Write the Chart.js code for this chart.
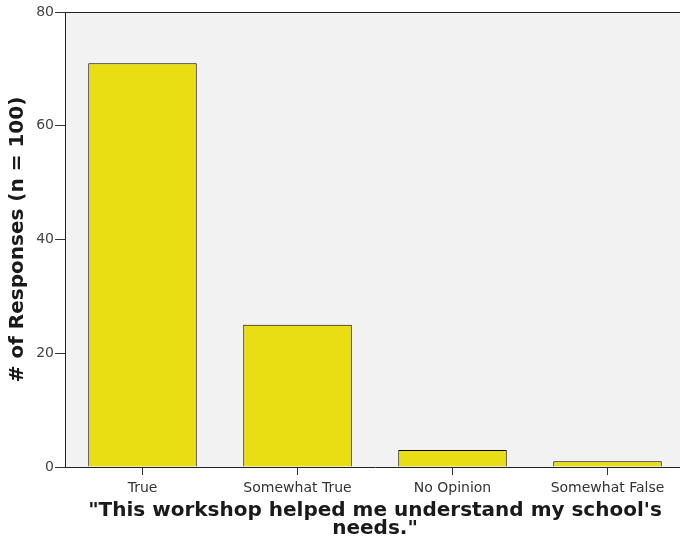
<!DOCTYPE html>
<html>
<head>
<meta charset="UTF-8">
<title>Workshop responses</title>
<script src="https://cdn.jsdelivr.net/npm/chart.js"></script>
<style>
  html, body { margin: 0; padding: 0; overflow: hidden; background: #fff; }
  #chart { display: block; }
</style>
</head>
<body>
<canvas id="chart" width="690" height="544"></canvas>
<script>
// data
var categories = ['True', 'Somewhat True', 'No Opinion', 'Somewhat False'];
var responses = [71, 25, 3, 1];
var yTicks = [0, 20, 40, 60, 80];
var xTitle = ['"This workshop helped me understand my school\'s', 'needs."'];
var yTitle = '# of Responses (n = 100)';

// grey plot panel with a frame, like the original
var panel = {
  id: 'panel',
  beforeDraw: function (chart) {
    var a = chart.chartArea, c = chart.ctx;
    c.save();
    c.fillStyle = '#f2f2f2';
    c.fillRect(a.left, a.top, a.right - a.left, a.bottom - a.top);
    c.strokeStyle = '#222';
    c.lineWidth = 1;
    c.beginPath();
    c.moveTo(a.left, a.top + 0.5);
    c.lineTo(a.right, a.top + 0.5);
    c.stroke();
    c.restore();
  }
};

var ctx = document.getElementById('chart').getContext('2d');
new Chart(ctx, {
  type: 'bar',
  data: {
    labels: categories,
    datasets: [{
      data: responses,
      backgroundColor: '#e9dd14',
      borderColor: '#000',
      borderWidth: 1,
      barPercentage: 0.7,
      categoryPercentage: 1.0
    }]
  },
  options: {
    responsive: false,
    animation: false,
    layout: { padding: { top: 12, right: 5, left: 0, bottom: 0 } },
    plugins: { legend: { display: false }, tooltip: { enabled: false } },
    scales: {
      x: {
        grid: { drawOnChartArea: false, offset: false, color: '#333', tickLength: 8 },
        border: { color: '#222', width: 1 },
        ticks: { color: '#333', font: { family: 'DejaVu Sans', size: 14 }, padding: 5, maxRotation: 0 },
        title: {
          display: true, text: xTitle, color: '#1a1a1a',
          font: { family: 'DejaVu Sans', size: 20, weight: 'bold', lineHeight: 0.9 },
          padding: { top: 0, bottom: 6 }
        },
        afterFit: function (s) { s.height = 77; }
      },
      y: {
        min: 0, max: 80,
        afterBuildTicks: function (s) { s.ticks = yTicks.map(function (v) { return { value: v }; }); },
        grid: { drawOnChartArea: false, color: '#333', tickLength: 10 },
        border: { color: '#222', width: 1 },
        ticks: { color: '#444', font: { family: 'DejaVu Sans', size: 14 }, padding: 1 },
        title: {
          display: true, text: yTitle, color: '#1a1a1a',
          font: { family: 'DejaVu Sans', size: 20, weight: 'bold' },
          padding: { top: 6, bottom: 4 }
        },
        afterFit: function (s) { s.width = 65; }
      }
    }
  },
  plugins: [panel]
});
</script>
</body>
</html>
